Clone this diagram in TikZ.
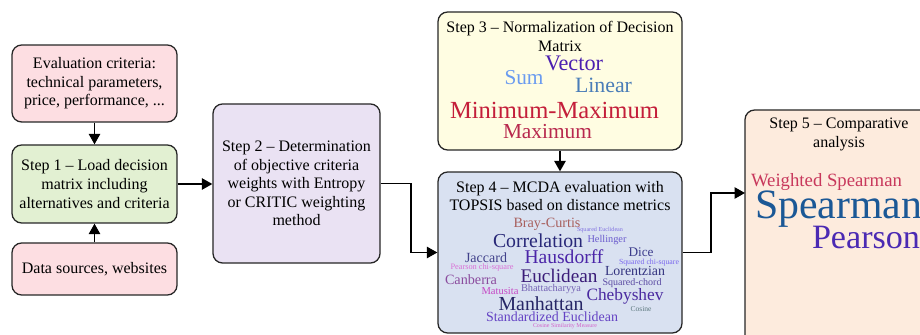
\documentclass[tikz,border=0pt]{standalone}
\usepackage{fontspec}
\usepackage{graphicx}
\setmainfont{Liberation Serif}
\newfontfamily\cloudfont{Liberation Serif}
\usetikzlibrary{arrows.meta}
\newlength\pxu
\setlength\pxu{0.625pt}
% cloud word: width in px, colour, text
\newcommand\cw[3]{\textcolor[HTML]{#2}{\resizebox{#1\pxu}{!}{\cloudfont #3}}}
\definecolor{fillpink}{HTML}{FDDEE2}
\definecolor{fillgreen}{HTML}{E2F0D2}
\definecolor{filllav}{HTML}{EAE2F3}
\definecolor{fillcream}{HTML}{FFFDE2}
\definecolor{fillblue}{HTML}{D9E1F1}
\definecolor{fillpeach}{HTML}{FDEBDD}
\tikzset{
  box/.style={draw=black!85,line width=0.8pt,rounded corners=6pt,align=center,inner sep=0pt,font=\fontsize{10}{11.6}\selectfont},
  title/.style={align=center,inner sep=0pt,font=\fontsize{10}{11.6}\selectfont},
  arrow/.style={line width=1.1pt,-{Triangle[length=6.5pt,width=7pt]}},
  word/.style={inner sep=0pt}
}
\begin{document}
\begin{tikzpicture}[x=\pxu,y=-\pxu]
\useasboundingbox(0,0) rectangle (920,335);
\clip(0,0) rectangle (920,335);
% input boxes
\node[box,fill=fillpink,minimum width=103.1pt,minimum height=48.1pt](eval) at (94.5,83.5){Evaluation criteria:\\technical parameters,\\price, performance, ...};
\node[box,fill=fillgreen,minimum width=103.1pt,minimum height=48.75pt](step1) at (94.5,184){Step 1 -- Load decision\\matrix including\\alternatives and criteria};
\node[box,fill=fillpink,minimum width=103.1pt,minimum height=32.5pt](data) at (94.5,269){Data sources, websites};
\node[box,fill=filllav,minimum width=104.4pt,minimum height=99.4pt](step2) at (296.5,183.5){Step 2 -- Determination\\of objective criteria\\weights with Entropy\\or CRITIC weighting\\method};
% step 3
\node[box,fill=fillcream,minimum width=152.5pt,minimum height=86.25pt](step3) at (560,81){};
\node[title,anchor=north](t3) at ([yshift=-6pt]step3.north){Step 3 -- Normalization of Decision\\Matrix};
\node[word](w-vector) at (574,63){\cw{58}{4B1FB0}{Vector}};
\node[word](w-sum) at (524,78){\cw{39}{6A9BF0}{Sum}};
\node[word](w-linear) at (603.5,85){\cw{57}{4A7DB8}{Linear}};
\node[word](w-minmax) at (554.5,110){\cw{209}{C41E3A}{Minimum-Maximum}};
\node[word](w-max) at (547.5,132){\cw{89}{B8294E}{Maximum}};
% step 4
\node[box,fill=fillblue,minimum width=152.5pt,minimum height=100.6pt](step4) at (560,252.5){};
\node[title,anchor=north](t4) at ([yshift=-6pt]step4.north){Step 4 -- MCDA evaluation with\\TOPSIS based on distance metrics};
\node[word](w-bray) at (547,224){\cw{67}{A8605E}{Bray-Curtis}};
\node[word](w-sqeuc) at (600,230.5){\cw{46}{8070E0}{Squared Euclidean}};
\node[word](w-corr) at (538,240.5){\cw{90}{282878}{Correlation}};
\node[word](w-hell) at (607,240.5){\cw{39}{6A5ACD}{Hellinger}};
\node[word](w-jacc) at (486,258){\cw{42}{40408A}{Jaccard}};
\node[word](w-haus) at (564,257){\cw{79}{4B25A8}{Hausdorff}};
\node[word](w-dice) at (641,252.5){\cw{25}{3C3C8C}{Dice}};
\node[word](w-sqchi) at (649,262.5){\cw{60}{7B68EE}{Squared chi-square}};
\node[word](w-pchi) at (482,268){\cw{63}{DA70D6}{Pearson chi-square}};
\node[word](w-eucl) at (559,275.5){\cw{77}{3A1C78}{Euclidean}};
\node[word](w-lor) at (635,270.5){\cw{60}{33337F}{Lorentzian}};
\node[word](w-canb) at (471,280){\cw{52}{8B4C9E}{Canberra}};
\node[word](w-sqch) at (632,283.5){\cw{59}{5B4BA3}{Squared-chord}};
\node[word](w-matu) at (500,291.5){\cw{37}{C548C5}{Matusita}};
\node[word](w-bhat) at (551,289){\cw{60}{7462B4}{Bhattacharyya}};
\node[word](w-cheb) at (625,296){\cw{77}{4A2AA0}{Chebyshev}};
\node[word](w-manh) at (541,304){\cw{85}{262666}{Manhattan}};
\node[word](w-cos) at (641,309){\cw{21}{5F7A80}{Cosine}};
\node[word](w-std) at (552,316.5){\cw{132}{6442C4}{Standardized Euclidean}};
\node[word](w-cossim) at (565,326){\cw{64}{D260C8}{Cosine Similarity Measure}};
% step 5
\node[box,fill=fillpeach,minimum width=162.5pt,minimum height=162.5pt](step5) at (875,240){};
\node[title,anchor=north](t5) at (839,118){Step 5 -- Comparative\\analysis};
\node[word](w-wsp) at (826.5,182){\cw{151}{C8385C}{Weighted Spearman}};
\node[word](w-sp) at (838.5,209){\cw{167}{1B5896}{Spearman}};
\node[word](w-pe) at (866,237){\cw{108}{4B2AB3}{Pearson}};
\coordinate(in5) at (745,193);
% connectors
\draw[arrow](eval)--(step1);
\draw[arrow](data)--(step1);
\draw[arrow](step1.east)--(step1.east-|step2.west);
\draw[arrow](step2.east)--++(30,0)|-(step4.west);
\draw[arrow](step3)--(step4);
\draw[arrow](step4.east)--++(28,0)|-(in5);
\end{tikzpicture}
\end{document}
